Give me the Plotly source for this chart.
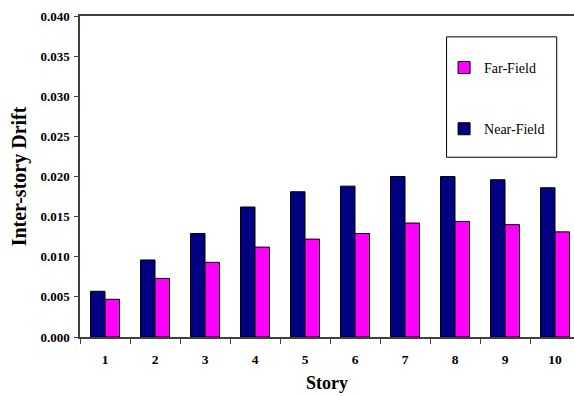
import plotly.graph_objects as go

stories = ["1", "2", "3", "4", "5", "6", "7", "8", "9", "10"]
near_field = [0.0057, 0.0096, 0.0129, 0.0162, 0.0181, 0.0188, 0.0200, 0.0200, 0.0196, 0.0186]
far_field = [0.0047, 0.0073, 0.0093, 0.0112, 0.0122, 0.0129, 0.0142, 0.0144, 0.0140, 0.0131]
y_ticks = [0.000, 0.005, 0.010, 0.015, 0.020, 0.025, 0.030, 0.035, 0.040]

SERIF = "Liberation Serif, Times New Roman, serif"

fig = go.Figure()
fig.add_trace(go.Bar(
    x=stories, y=near_field, name="Near-Field", legendgroup="near", legendrank=2,
    marker=dict(color="#000080", line=dict(color="black", width=1)),
))
fig.add_trace(go.Bar(
    x=stories, y=far_field, name="Far-Field", legendgroup="far", legendrank=1,
    marker=dict(color="#FF00FF", line=dict(color="black", width=1)),
))

fig.update_layout(
    width=574, height=396,
    margin=dict(l=80, r=0, t=16, b=59),
    paper_bgcolor="white", plot_bgcolor="white",
    barmode="group", bargap=0.42, bargroupgap=0,
    font=dict(family=SERIF, color="black"),
    showlegend=True,
    legend=dict(
        x=0.737, y=0.888, xanchor="left", yanchor="top",
        traceorder="grouped", tracegroupgap=40,
        bgcolor="rgba(0,0,0,0)", borderwidth=0,
        font=dict(family=SERIF, size=14, color="black"),
    ),
    xaxis=dict(
        type="category", range=[-0.5, 9.38],
        showline=True, linecolor="#404040", linewidth=1.5, mirror=True,
        ticks="outside", ticklen=5, tickcolor="#404040", tickson="boundaries",
        ticklabelstandoff=9,
        showgrid=False,
        tickfont=dict(family=SERIF, size=13.5, weight="bold"),
        title=dict(text="Story", font=dict(family=SERIF, size=18, weight="bold"), standoff=10),
    ),
    yaxis=dict(
        range=[0, 0.04], tickvals=y_ticks, tickformat=".3f",
        showline=True, linecolor="#404040", linewidth=1.5,
        ticks="outside", ticklen=4, tickcolor="#404040",
        ticklabelstandoff=2,
        showgrid=False, zeroline=False,
        tickfont=dict(family=SERIF, size=13, weight="bold"),
        title=dict(text="Inter-story Drift", font=dict(family=SERIF, size=20, weight="bold"), standoff=8),
    ),
    shapes=[dict(
        type="rect", xref="paper", yref="paper",
        x0=0.742, x1=0.965, y0=0.560, y1=0.935,
        line=dict(color="black", width=1), fillcolor="rgba(0,0,0,0)",
    )],
)

fig.write_html("out.html")
